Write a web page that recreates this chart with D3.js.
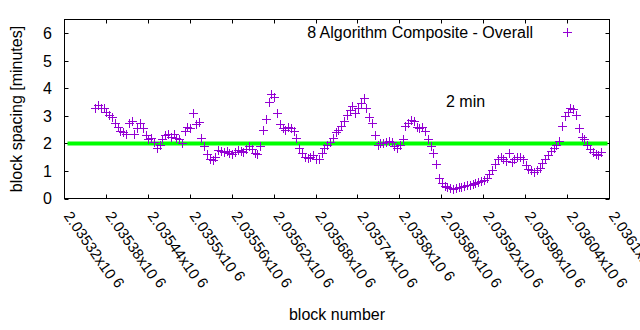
<!DOCTYPE html>
<html>
<head>
<meta charset="utf-8">
<script src="https://cdn.jsdelivr.net/npm/d3@7"></script>
<style>
  html, body { margin: 0; padding: 0; background: #fff; }
  svg { display: block; font-family: "Liberation Sans", Arial, sans-serif; }
  .tick-label { font-size: 16px; fill: #000; }
  .xtick-label { font-size: 15px; fill: #000; }
</style>
</head>
<body>
<svg id="chart" width="640" height="330"></svg>
<script>
const W = 640, H = 330;
const MARGIN = { left: 64.5, right: 30.5, top: 19.5, bottom: 131.5 };

// block numbers are consecutive; one reading every 4 blocks
const FIRST_BLOCK = 2035364;
const BLOCK_STEP  = 4;

const spacing = [
  3.30, 3.40, 3.30, 3.28, 3.15, 3.05, 2.95, 2.75, 2.60, 2.45,
  2.40, 2.35, 2.75, 2.80, 2.35, 2.55, 2.75, 2.55, 2.30, 2.15,
  2.20, 2.05, 1.85, 1.95, 2.15, 2.30, 2.35, 2.25, 2.35, 2.20,
  2.15, 2.00, 2.45, 2.60, 2.55, 3.10, 2.72, 2.78, 2.20, 1.90,
  1.62, 1.45, 1.38, 1.50, 1.75, 1.72, 1.68, 1.72, 1.65, 1.60,
  1.70, 1.75, 1.72, 1.68, 1.80, 1.90, 1.78, 1.65, 1.60, 1.90,
  2.50, 2.90, 3.50, 3.80, 3.70, 3.10, 2.70, 2.55, 2.50, 2.60,
  2.55, 2.45, 2.20, 1.85, 1.65, 1.52, 1.48, 1.50, 1.58, 1.45,
  1.42, 1.65, 1.85, 1.95, 2.05, 2.20, 2.40, 2.50, 2.65, 2.80,
  3.05, 3.20, 3.35, 3.10, 3.30, 3.45, 3.65, 3.30, 2.95, 2.75,
  2.30, 1.95, 2.00, 2.00, 2.05, 2.10, 2.05, 1.90, 1.83, 1.95,
  2.15, 2.65, 2.75, 2.85, 2.80, 2.60, 2.55, 2.60, 2.45, 2.15,
  1.90, 1.65, 1.25, 0.75, 0.55, 0.45, 0.40, 0.38, 0.33, 0.38,
  0.40, 0.43, 0.45, 0.48, 0.50, 0.52, 0.57, 0.60, 0.62, 0.66,
  0.75, 0.90, 1.05, 1.25, 1.45, 1.50, 1.42, 1.35, 1.65, 1.33,
  1.42, 1.50, 1.52, 1.45, 1.20, 1.08, 1.02, 0.97, 1.03, 1.12,
  1.30, 1.45, 1.58, 1.72, 1.85, 1.95, 2.10, 2.65, 3.00, 3.15,
  3.30, 3.25, 3.05, 2.55, 2.25, 2.15, 1.95, 1.80, 1.70, 1.60,
  1.58, 1.68
];

const xTicks = [2035320, 2035380, 2035440, 2035500, 2035560, 2035620, 2035680,
                2035740, 2035800, 2035860, 2035920, 2035980, 2036040, 2036100];
const xTickLabels = ["2.03532", "2.03538", "2.03544", "2.0355", "2.03556", "2.03562", "2.03568",
                     "2.03574", "2.0358", "2.03586", "2.03592", "2.03598", "2.03604", "2.0361"];
const yTicks = [0, 1, 2, 3, 4, 5, 6];

const TARGET     = 2;
const SERIES     = "8 Algorithm Composite - Overall";
const PURPLE     = "#9400d3";
const GREEN      = "#00ff00";

const points = spacing.map((v, i) => ({ block: FIRST_BLOCK + i * BLOCK_STEP, v }));

const svg = d3.select("#chart");

const x = d3.scaleLinear()
            .domain([xTicks[0], xTicks[xTicks.length - 1]])
            .range([MARGIN.left, W - MARGIN.right]);
const y = d3.scaleLinear()
            .domain([0, 6.5])
            .range([H - MARGIN.bottom, MARGIN.top]);

const TICK = 4;

// tick marks, mirrored on all sides
const ticks = svg.append("g").attr("stroke", "#000").attr("stroke-width", 1);
yTicks.forEach(t => {
  const yy = Math.round(y(t)) + 0.5;
  ticks.append("line").attr("x1", x.range()[0]).attr("x2", x.range()[0] + TICK).attr("y1", yy).attr("y2", yy);
  ticks.append("line").attr("x1", x.range()[1]).attr("x2", x.range()[1] - TICK).attr("y1", yy).attr("y2", yy);
});
xTicks.forEach(t => {
  const xx = Math.round(x(t) - 0.5) + 0.5;
  ticks.append("line").attr("x1", xx).attr("x2", xx).attr("y1", y.range()[0]).attr("y2", y.range()[0] - TICK);
  ticks.append("line").attr("x1", xx).attr("x2", xx).attr("y1", y.range()[1]).attr("y2", y.range()[1] + TICK);
});

// y tick labels
svg.append("g")
  .selectAll("text")
  .data(yTicks)
  .enter().append("text")
    .attr("class", "tick-label")
    .attr("x", x.range()[0] - 12.5)
    .attr("y", d => y(d))
    .attr("dy", "0.36em")
    .attr("text-anchor", "end")
    .text(d => d);

// x tick labels, rotated down to the right
const xl = svg.append("g")
  .selectAll("text")
  .data(xTicks)
  .enter().append("text")
    .attr("class", "xtick-label")
    .attr("transform", d => `translate(${x(d) - 1.3},${y.range()[0] + 17.5}) rotate(55)`)
    .attr("text-anchor", "start");
xl.append("tspan").text((d, i) => xTickLabels[i] + "x10");
xl.append("tspan").attr("dx", 4).attr("dy", -2).text("6");

// target line
svg.append("line")
   .attr("x1", x.range()[0] + 3)
   .attr("x2", x.range()[1] - 2)
   .attr("y1", y(TARGET))
   .attr("y2", y(TARGET))
   .attr("stroke", GREEN)
   .attr("stroke-width", 4);

svg.append("text")
   .attr("class", "tick-label")
   .attr("x", 446)
   .attr("y", 107)
   .text(`${TARGET} min`);

// points as gnuplot "+" markers
const plus = (g, r) => g.append("path")
  .attr("d", `M${-r},0H${r}M0,${-r}V${r}`)
  .attr("stroke", PURPLE)
  .attr("stroke-width", 1)
  .attr("fill", "none");

svg.append("g")
  .selectAll("g")
  .data(points)
  .enter().append("g")
    .attr("transform", d => `translate(${Math.round(x(d.block)) + 0.5},${Math.round(y(d.v)) + 0.5})`)
    .each(function () { plus(d3.select(this), 4.5); });

// border
svg.append("rect")
   .attr("x", x.range()[0])
   .attr("y", y.range()[1])
   .attr("width", x.range()[1] - x.range()[0])
   .attr("height", y.range()[0] - y.range()[1])
   .attr("fill", "none")
   .attr("stroke", "#000")
   .attr("stroke-width", 1);

// legend
svg.append("text")
   .attr("class", "tick-label")
   .attr("x", 533)
   .attr("y", 38)
   .attr("text-anchor", "end")
   .text(SERIES);
plus(svg.append("g").attr("transform", "translate(567.5,32.5)"), 4.5);

// axis titles
svg.append("text")
   .attr("class", "tick-label")
   .attr("transform", `translate(22,${(y.range()[0] + y.range()[1]) / 2}) rotate(-90)`)
   .attr("text-anchor", "middle")
   .text("block spacing [minutes]");

svg.append("text")
   .attr("class", "tick-label")
   .attr("x", (x.range()[0] + x.range()[1]) / 2)
   .attr("y", 320)
   .attr("text-anchor", "middle")
   .text("block number");
</script>
</body>
</html>
